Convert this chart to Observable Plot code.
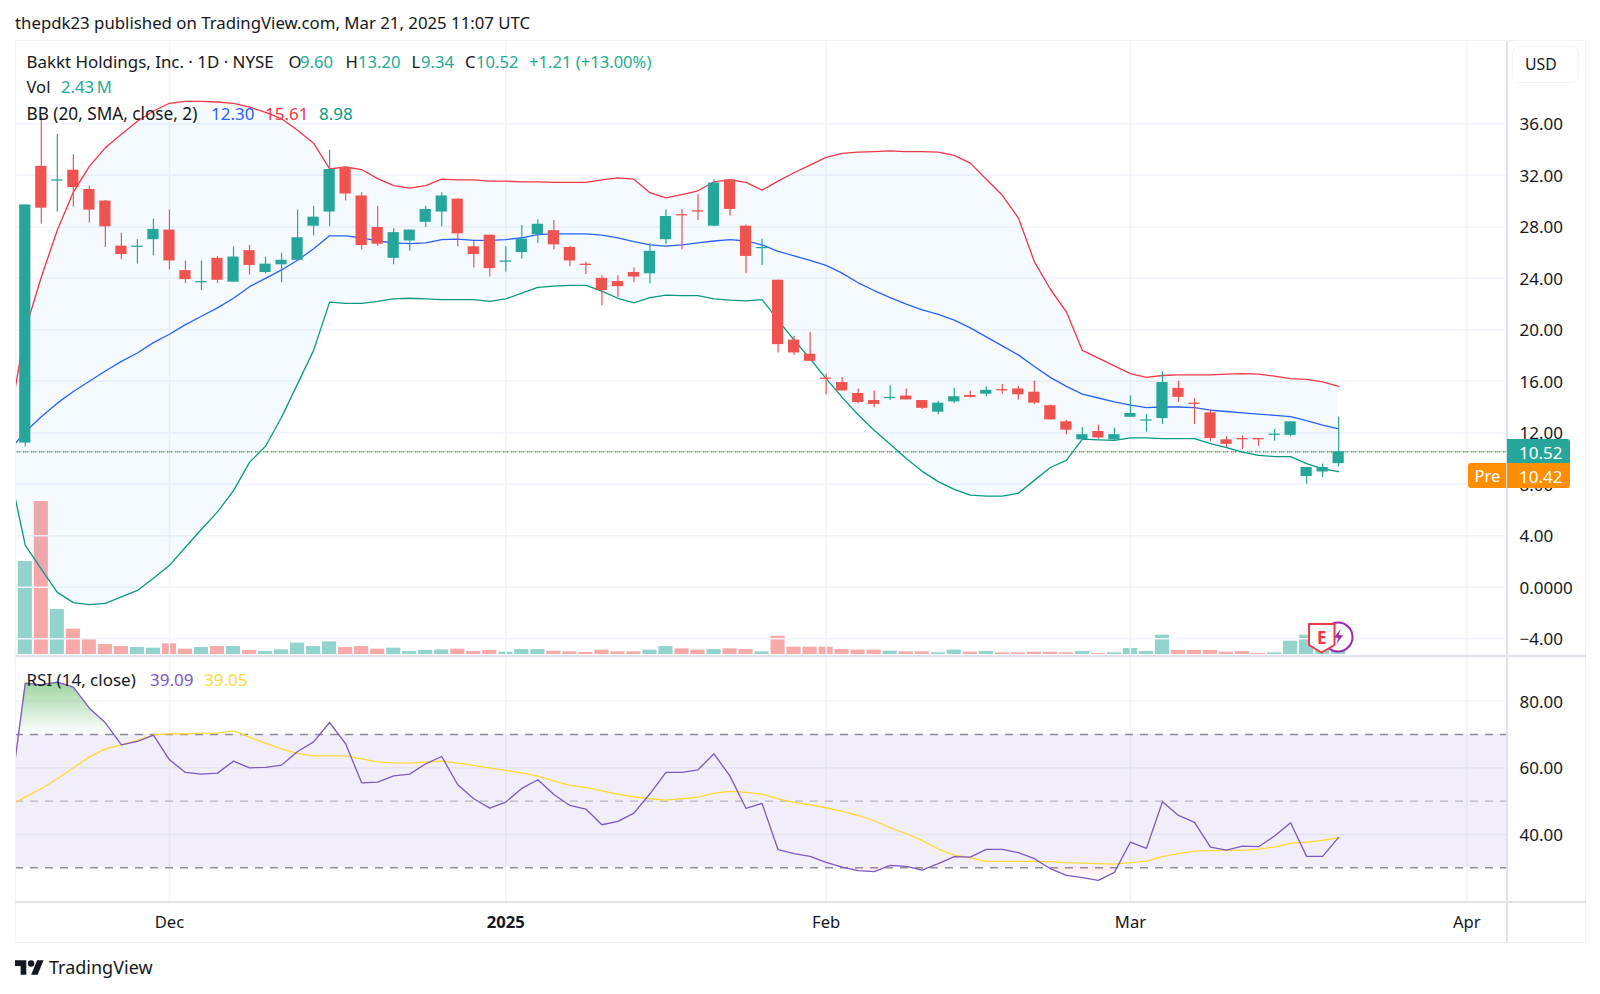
<!DOCTYPE html>
<html>
<head>
<meta charset="utf-8">
<script src="https://cdn.jsdelivr.net/npm/d3@7"></script>
<script src="https://cdn.jsdelivr.net/npm/@observablehq/plot@0.6"></script>
<style>
html,body{margin:0;padding:0;background:#fff;}
#page{position:relative;width:1600px;height:994px;overflow:hidden;font-family:"Noto Sans",sans-serif;color:#131722;}
#page svg.pane{position:absolute;left:0;}
.t{position:absolute;white-space:pre;line-height:1;}
.box{position:absolute;box-sizing:border-box;}
</style>
</head>
<body>
<div id="page"></div>
<script>
// Bar numbers: 0 = first listed candle (18 Nov 2024), 82 = 20 Mar 2025; -1 only feeds the lines clipped at the left edge
const opens=[11.2,32.7,31.55,32.4,30.9,30.0,26.5,26.4,27.0,27.75,24.6,23.65,25.55,23.7,26.15,24.45,25.05,25.4,28.05,29.15,32.6,30.4,27.95,25.55,26.9,28.35,29.15,30.15,26.45,27.35,25.25,26.0,27.4,27.7,26.4,25.1,24.0,23.75,24.45,24.35,27.0,28.95,29.25,28.05,31.65,28.05,26.3,23.85,19.2,18.1,16.25,15.9,15.05,14.5,14.65,14.85,14.5,13.6,14.4,14.9,15.0,15.35,15.4,15.15,14.1,12.85,11.45,12.1,11.45,13.2,12.9,13.1,15.45,14.3,13.55,11.45,11.55,11.55,11.8,11.8,8.6,8.95,9.60];
const highs=[29.7,36.6,35.2,33.6,31.15,30.05,27.5,27.0,28.6,29.3,25.35,25.35,25.7,26.45,26.55,25.65,25.95,29.3,29.6,33.95,32.65,30.65,29.6,27.85,27.75,29.6,30.65,30.2,26.85,27.35,26.45,28.1,28.55,28.5,26.5,25.25,24.2,24.2,24.8,26.7,29.3,29.35,30.5,31.65,31.65,28.15,27.05,23.85,19.5,19.8,16.55,16.3,15.4,15.25,15.65,15.4,14.5,14.45,15.45,15.25,15.55,15.75,15.6,16.0,14.15,12.95,12.4,12.6,12.35,14.85,13.4,16.75,16.0,14.65,13.8,11.7,11.75,11.55,12.25,12.85,9.3,9.55,13.20];
const lows=[10.9,28.2,29.15,29.55,28.3,26.4,25.45,25.1,25.75,24.65,23.6,23.05,23.6,23.7,24.25,24.35,23.65,25.4,27.3,28.0,30.0,26.2,26.5,25.05,26.1,27.95,28.0,26.45,24.8,24.1,24.5,25.5,26.7,26.2,24.9,24.3,21.85,22.5,23.65,23.55,26.65,26.2,28.5,28.0,28.85,24.35,25.0,18.2,18.0,17.55,14.95,15.25,14.25,13.95,14.5,14.55,13.8,13.4,14.25,14.7,14.8,15.0,14.55,14.2,13.0,11.85,11.45,11.5,11.35,13.2,12.05,12.65,14.35,12.65,11.3,10.85,10.7,10.95,11.35,11.7,8.0,8.5,9.34];
const closes=[29.7,29.45,31.65,31.05,29.3,28.0,25.85,26.5,27.8,25.35,23.9,23.75,23.85,25.65,25.0,25.1,25.4,27.15,28.75,32.45,30.55,26.55,26.65,27.55,27.75,29.35,30.4,27.45,25.85,24.75,25.35,27.05,28.2,26.6,25.35,25.0,23.05,23.35,24.1,26.1,28.8,28.85,29.15,31.4,29.35,25.7,26.4,18.85,18.2,17.55,16.15,15.25,14.35,14.2,14.75,14.55,13.9,14.3,14.8,14.75,15.3,15.25,14.95,14.3,13.0,12.2,11.85,11.6,11.85,13.5,13.0,15.9,14.75,14.2,11.55,11.1,11.45,11.45,11.9,12.85,9.3,9.3,10.52];
// These start at bar -1
const volumeM=[2.43,67.8,111.5,32.8,18.5,11.4,7.3,5.8,5.1,4.6,7.8,3.9,5.1,5.8,5.8,2.9,2.2,3.4,8.3,5.8,9.2,5.1,5.8,3.9,4.6,2.2,2.9,3.4,3.9,2.2,2.9,1.7,3.6,3.6,2.4,1.9,1.5,3.2,1.9,1.9,3.2,5.8,4.1,3.2,3.6,4.1,3.6,1.9,13.4,5.3,5.3,5.3,3.6,3.2,3.2,2.4,1.9,1.9,1.2,3.2,1.7,2.2,1.2,1.2,1.7,1.7,1.2,2.2,0.7,1.2,4.4,2.2,14.1,2.9,2.9,2.9,1.7,2.2,0.7,1.2,9.7,14.1,3.4,2.43];
const bbUpper=[12.8,20,24.1,27.75,30.7,32.7,34.15,35.2,36.2,37.0,37.6,37.75,37.75,37.7,37.6,37.3,36.9,36.4,35.5,34.5,32.5,32.65,32.45,31.75,31.2,31.0,31.2,31.7,31.65,31.65,31.55,31.55,31.5,31.5,31.45,31.45,31.45,31.65,31.8,31.7,30.65,30.25,30.5,30.8,31.5,31.65,31.45,30.85,31.55,32.2,32.8,33.4,33.7,33.8,33.85,33.9,33.85,33.85,33.8,33.55,32.95,31.7,30.45,28.7,25.3,23.15,21.4,18.4,17.8,17.2,16.6,16.3,16.45,16.5,16.5,16.5,16.55,16.6,16.55,16.4,16.2,16.15,15.95,15.61];
const bbBasis=[10.64,12.07,13.25,14.3,15.2,16.0,16.8,17.55,18.2,19.0,19.65,20.4,21.05,21.7,22.45,23.35,24.0,24.65,25.4,26.3,27.3,27.3,27.15,26.9,26.75,26.7,26.75,27.0,27.05,26.95,26.95,27.0,27.15,27.4,27.45,27.45,27.45,27.35,27.15,26.85,26.6,26.5,26.6,26.75,26.9,27.0,26.9,26.6,26.1,25.75,25.4,25.0,24.4,23.65,23.05,22.5,22.0,21.55,21.2,20.75,20.15,19.45,18.75,18.05,17.15,16.3,15.6,15.0,14.7,14.4,14.15,13.95,14.0,14.0,13.95,13.75,13.65,13.55,13.45,13.35,13.25,12.95,12.6,12.30];
const bbLower=[9.07,3.25,1.4,-0.4,-1.2,-1.35,-1.25,-0.75,-0.25,0.7,1.7,3.1,4.5,5.85,7.5,9.7,10.95,13.2,15.8,18.4,22.15,22.05,22.05,22.2,22.4,22.45,22.4,22.35,22.35,22.35,22.2,22.4,22.85,23.3,23.4,23.45,23.45,23.0,22.45,22.1,22.5,22.7,22.65,22.65,22.4,22.3,22.25,22.35,20.75,19.2,17.75,16.2,14.75,13.4,12.2,11.1,10.0,9.0,8.2,7.6,7.15,7.07,7.07,7.3,8.3,9.3,9.85,11.5,11.45,11.4,11.6,11.6,11.55,11.55,11.55,11.15,10.85,10.5,10.25,10.15,10.15,9.6,9.2,8.98];
const rsiLine=[49.0,85.4,84.9,85.7,84.2,77.9,73.5,66.9,67.9,69.8,62.4,58.6,58.1,58.4,62.0,60.0,60.1,60.8,64.9,67.8,73.6,67.2,55.5,55.7,57.6,58.1,61.2,63.4,54.9,50.7,47.9,49.7,53.8,56.4,52.0,48.7,47.6,42.9,43.9,46.4,52.2,58.6,58.6,59.4,64.2,57.5,47.8,49.3,35.4,34.2,33.4,31.6,30.2,29.1,28.8,30.7,30.4,29.3,31.2,33.3,33.2,35.5,35.5,34.5,32.7,29.7,27.7,27.0,26.2,28.6,37.7,35.8,49.8,45.7,43.6,36.2,35.3,36.5,36.3,39.5,43.5,33.4,33.4,39.09];
const rsiMA=[48.6,51.2,53.7,56.7,60.0,63.2,65.7,66.9,68.2,69.9,70.2,70.2,70.4,70.4,71.1,69.2,67.4,65.7,64.3,63.6,63.6,63.6,62.7,61.8,61.5,61.4,61.7,62.0,61.4,60.7,59.9,59.2,58.5,57.5,56.1,54.7,54.1,53.1,52.1,51.3,50.7,50.3,50.7,51.2,52.4,52.9,52.6,52.1,50.7,49.6,48.9,48.0,46.9,45.7,44.1,42.0,40.2,38.2,35.6,33.8,33.0,31.9,31.9,31.9,31.9,31.8,31.5,31.4,31.2,31.1,31.5,32.0,33.3,34.2,35.0,35.1,35.2,35.2,35.6,36.2,37.3,37.7,38.2,39.05];
const timeTicks=[9,50,69,90];
const timeLabels=["Dec","Feb","Mar","Apr"];
const yearTick=30, yearLabel="2025";
const priceTicks=[-4,0,4,8,12,16,20,24,28,32,36];
const rsiTicks=[40,60,80];
const lastClose=10.52;

const UP="#26a69a",DOWN="#ef5350",GRID="#f0f3fa",FONT='"Noto Sans",sans-serif';
const page=document.getElementById("page");
const xDomain=[-0.612,92.48];
const xOpt={type:"linear",domain:xDomain};
const common={width:1600,marginLeft:15,marginRight:94,style:{background:"transparent",fontFamily:FONT,fontSize:"15px",color:"#131722"}};

const bars=closes.map((c,i)=>({i,o:opens[i],h:highs[i],l:lows[i],c,up:c>=opens[i]}));
const lines=bbUpper.map((u,k)=>({i:k-1,u,m:bbBasis[k],d:bbLower[k],r:rsiLine[k],a:rsiMA[k],v:volumeM[k],up:k===0?false:bars[k-1].up}));

function add(node,top){node.classList.add("pane");node.style.top=top+"px";page.appendChild(node);}

// volume pane (own scale, underneath the price marks)
add(Plot.plot({...common,height:615,marginTop:460,marginBottom:2,x:{...xOpt,axis:null},y:{domain:[0,111.5],axis:null},
  marks:[Plot.rectY(lines,{x1:d=>d.i-0.44,x2:d=>d.i+0.44,y1:0,y2:"v",fill:d=>d.up?"#92d3cc":"#f7a9a7",clip:"frame"})]}),41);

// price pane
add(Plot.plot({...common,height:615,marginTop:0,marginBottom:0,x:{...xOpt,axis:null},y:{domain:[-5.385,42.40],axis:null},
  marks:[
    Plot.ruleY(priceTicks,{stroke:GRID,strokeWidth:1.5}),
    Plot.ruleX([...timeTicks,yearTick],{stroke:GRID,strokeWidth:1.5}),
    Plot.axisY(priceTicks,{anchor:"right",tickSize:0,tickPadding:13,textAnchor:"start",label:null,fill:"#131722",fontSize:17,dy:1,
      tickFormat:t=>t===0?"0.0000":(t<0?"\u2212":"")+Math.abs(t).toFixed(2)}),
    Plot.areaY(lines,{x:"i",y1:"u",y2:"d",fill:"#2196f3",fillOpacity:0.05,clip:"frame"}),
    Plot.ruleY([lastClose],{stroke:UP,strokeWidth:1.5,strokeDasharray:"1.5,2.5"}),
    Plot.ruleY([lastClose],{stroke:"#ff9800",strokeWidth:1.5,strokeDasharray:"1.5,6.5",strokeDashoffset:-2}),
    Plot.lineY(lines,{x:"i",y:"u",stroke:"#f23645",strokeWidth:1.3,clip:"frame"}),
    Plot.lineY(lines,{x:"i",y:"m",stroke:"#2962ff",strokeWidth:1.3,clip:"frame"}),
    Plot.lineY(lines,{x:"i",y:"d",stroke:"#089981",strokeWidth:1.3,clip:"frame"}),
    Plot.ruleX(bars,{x:"i",y1:"l",y2:"h",stroke:d=>d.up?UP:DOWN,strokeWidth:1.2,clip:"frame"}),
    Plot.rect(bars,{x1:d=>d.i-0.35,x2:d=>d.i+0.35,y1:"o",y2:"c",fill:d=>d.up?UP:DOWN,clip:"frame"})
  ]}),41);

// RSI pane
function beyond(level,test){ // outline of the RSI where it leaves the level, with exact crossing points
  const out=[];
  for(let k=0;k<lines.length;k++){
    const p=lines[k],q=lines[k+1];
    out.push({i:p.i,y:test(p.r)?p.r:level});
    if(q&&test(p.r)!==test(q.r)){out.push({i:p.i+(level-p.r)/(q.r-p.r),y:level});}
  }
  return out;
}
const gradients=()=>{
  const svg=d3.create("svg:defs");
  const g=svg.append("linearGradient").attr("id","ob").attr("x1",0).attr("x2",0).attr("y1",0).attr("y2",1);
  g.append("stop").attr("offset","0%").attr("stop-color","#4caf50").attr("stop-opacity",0.55);
  g.append("stop").attr("offset","100%").attr("stop-color","#4caf50").attr("stop-opacity",0);
  const r=svg.append("linearGradient").attr("id","os").attr("x1",0).attr("x2",0).attr("y1",0).attr("y2",1);
  r.append("stop").attr("offset","0%").attr("stop-color","#ff5252").attr("stop-opacity",0.12);
  r.append("stop").attr("offset","100%").attr("stop-color","#ff5252").attr("stop-opacity",0);
  return svg.node();
};
add(Plot.plot({...common,height:287,marginTop:0,marginBottom:41,x:{...xOpt,axis:null},y:{domain:[19.55,93.42],axis:null},
  marks:[
    gradients,
    Plot.ruleY(rsiTicks,{stroke:GRID,strokeWidth:1.5}),
    Plot.ruleX([...timeTicks,yearTick],{stroke:GRID,strokeWidth:1.5}),
    Plot.rectY([0],{x1:xDomain[0],x2:xDomain[1],y1:30,y2:70,fill:"#7e57c2",fillOpacity:0.1}),
    Plot.ruleY([70,30],{stroke:"#787b86",strokeWidth:1.4,strokeDasharray:"8,7",strokeOpacity:0.85}),
    Plot.ruleY([50],{stroke:"#787b86",strokeWidth:1.4,strokeDasharray:"8,7",strokeOpacity:0.5}),
    Plot.axisY(rsiTicks,{anchor:"right",tickSize:0,tickPadding:13,textAnchor:"start",label:null,fill:"#131722",fontSize:17,dy:1,tickFormat:t=>t.toFixed(2)}),
    Plot.axisX(timeTicks,{anchor:"bottom",tickSize:0,tickPadding:14,label:null,fill:"#131722",fontSize:16.6,tickFormat:t=>timeLabels[timeTicks.indexOf(t)]}),
    Plot.axisX([yearTick],{anchor:"bottom",tickSize:0,tickPadding:14,label:null,fill:"#131722",fontSize:16.6,fontWeight:"bold",tickFormat:()=>yearLabel}),
    Plot.areaY(beyond(70,v=>v>70),{x:"i",y1:70,y2:"y",fill:"url(#ob)",clip:"frame"}),
    Plot.areaY(beyond(30,v=>v<30),{x:"i",y1:30,y2:"y",fill:"url(#os)",clip:"frame"}),
    Plot.lineY(lines,{x:"i",y:"a",stroke:"#fdd835",strokeWidth:1.3,clip:"frame"}),
    Plot.lineY(lines,{x:"i",y:"r",stroke:"#7e57c2",strokeWidth:1.3,clip:"frame"})
  ]}),656);

// frame and separators
function box(l,t,w,h,css){const d=document.createElement("div");d.className="box";d.style.cssText=`left:${l}px;top:${t}px;width:${w}px;height:${h}px;${css||""}`;page.appendChild(d);return d;}
box(15,40,1571,903,"border:1.5px solid "+GRID);
box(15,655,1571,2,"background:#e0e3eb");
box(15,901,1571,2,"background:#e0e3eb");
box(1506,41,1.6,902,"background:#e0e3eb");

function text(x,yc,s,o={}){const d=document.createElement("div");d.className="t";d.textContent=s;
  const fs=o.size||17;d.style.cssText+=`left:${x}px;top:${yc-fs/2+0.5}px;font-size:${fs}px;color:${o.color||"#131722"};font-weight:${o.weight||400};`;page.appendChild(d);return d;}

text(15,22.5,"thepdk23 published on TradingView.com, Mar 21, 2025 11:07 UTC",{size:16.8});
const GV="#22ab94";
text(26.5,62,"Bakkt Holdings, Inc. \u00b7 1D \u00b7 NYSE",{size:16.9});
[[288.5,"O",300,"9.60"],[345.5,"H",358,"13.20"],[411.5,"L",421,"9.34"],[465,"C",476,"10.52"]].forEach(([a,k,b,v])=>{text(a,62,k,{size:16.6});text(b,62,v,{color:GV,size:16.6});});
text(529,62,"+1.21 (+13.00%)",{color:GV,size:16.6});
text(26.5,87,"Vol",{size:16.6});
text(61,87,"2.43\u2009M",{color:GV,size:16.6});
text(26.5,113,"BB (20, SMA, close, 2)",{size:17.2});
text(211,113,"12.30",{color:"#2962ff"});
text(265,113,"15.61",{color:"#f23645"});
text(319,113,"8.98",{color:"#089981"});
text(26.5,679,"RSI (14, close)");
text(150,679,"39.09",{color:"#7e57c2"});
text(204,679,"39.05",{color:"#fdd835"});

// USD box and price tags
box(1512,46,67,37,"background:#fff;border:1.5px solid #f0f3fa;border-radius:7px");
text(1525,64.5,"USD",{size:15.8});
box(1507,439,63,25,`background:${UP};border-radius:0 3px 0 0`);
box(1507,463,63,25,"background:#ff8f00;border-radius:0 0 3px 0");
box(1468,463,38,25,"background:#ff8f00;border-radius:3px 0 0 3px");
text(1519,451.5,"10.52",{color:"#fff",size:17});
text(1519,476,"10.42",{color:"#fff",size:17});
text(1474.5,476,"Pre",{color:"#fff",size:16.5});

// earnings and news badges
const ns="http://www.w3.org/2000/svg";
const badge=document.createElementNS(ns,"svg");
badge.setAttribute("width",60);badge.setAttribute("height",44);badge.setAttribute("viewBox","0 0 60 44");
badge.style.cssText="position:absolute;left:1300px;top:614px";
badge.innerHTML=`<circle cx="38" cy="23" r="14.5" fill="#fff" stroke="#9c27b0" stroke-width="2"/>
<path d="M41 14 L33.5 24 H38 L36 31 L43.5 21 H39 Z" fill="#9c27b0" stroke="#fff" stroke-width="0.5"/>
<path d="M9 10 H34.5 V31 L21.5 38.5 L9 31 Z" fill="#fff" stroke="#f23645" stroke-width="2" stroke-linejoin="round"/>
<text x="21.7" y="30" text-anchor="middle" font-family="Noto Sans" font-weight="700" font-size="17" fill="#f23645">E</text>`;
page.appendChild(badge);

// TradingView wordmark
const logo=document.createElementNS(ns,"svg");
logo.setAttribute("width",29);logo.setAttribute("height",15);logo.setAttribute("viewBox","0 4 36 18");
logo.style.cssText="position:absolute;left:15px;top:960px";
logo.innerHTML=`<path d="M14 22H7V11H0V4h14v18ZM28 22h-8l7.5-18h8L28 22Z" fill="#131722"/><circle cx="20" cy="8" r="4" fill="#131722"/>`;
page.appendChild(logo);
text(49,966.5,"TradingView",{size:18});
</script>
</body>
</html>
